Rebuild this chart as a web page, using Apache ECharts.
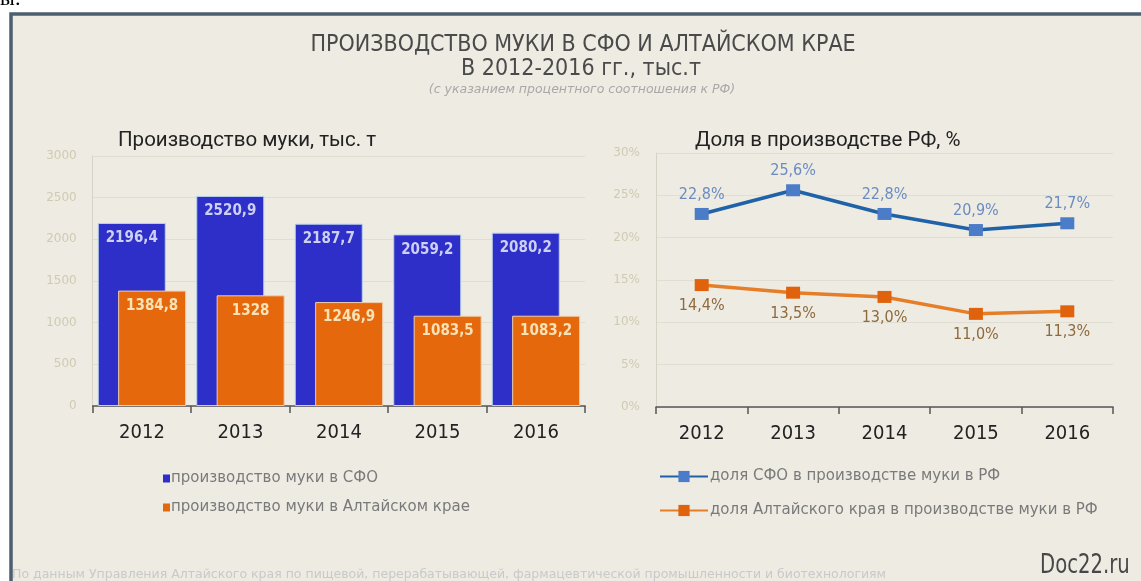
<!DOCTYPE html>
<html><head><meta charset="utf-8">
<script src="https://cdn.jsdelivr.net/npm/echarts@6/dist/echarts.min.js"></script>
<style>html,body{margin:0;padding:0;background:#fff}#c{width:1141px;height:581px}</style>
</head><body><div id="c"></div>
<script>
const years = ['2012','2013','2014','2015','2016'];
const sfoProd = [2196.4, 2520.9, 2187.7, 2059.2, 2080.2];
const altProd = [1384.8, 1328, 1246.9, 1083.5, 1083.2];
const sfoShare = [22.8, 25.6, 22.8, 20.9, 21.7];
const altShare = [14.4, 13.5, 13.0, 11.0, 11.3];
const seriesNames = ['производство муки в СФО','производство муки в Алтайском крае','доля СФО в производстве муки в РФ','доля Алтайского края в производстве муки в РФ'];
const leftTicks = [0, 500, 1000, 1500, 2000, 2500, 3000];
const rightTicks = [0, 5, 10, 15, 20, 25, 30];

const COND = "'DejaVu Sans Condensed',sans-serif";
const chart = echarts.init(document.getElementById('c'));
const fmtComma = v => String(v).replace('.', ',');
const pct = p => p.value.toFixed(1).replace('.', ',') + '%';
const axisCommon = {
  axisLabel:{color:'#cfcbb2', fontSize:12, fontFamily:'DejaVu Sans', margin:16},
  axisLine:{show:true, lineStyle:{color:'#d6d3c6'}},
  axisTick:{show:false},
  splitLine:{lineStyle:{color:'#e0ddd2'}}
};
const xCommon = {
  type:'category', data:years,
  axisLine:{lineStyle:{color:'#555', width:1.5}},
  axisTick:{show:true, length:7, lineStyle:{color:'#555', width:1.5}},
  axisLabel:{color:'#222', fontSize:20, fontFamily:COND, margin:17}
};
chart.setOption({
  backgroundColor:'#ffffff',
  animation:false,
  graphic:[
    {type:'text', left:0, top:-12, style:{text:'ы:', font:'22px "Liberation Serif", serif', fill:'#000'}},
    {type:'rect', shape:{x:11, y:14, width:1200, height:700}, style:{fill:'#eeebe3', stroke:'#4b5f70', lineWidth:3.5}},
    {type:'text', x:583, y:34, style:{text:'ПРОИЗВОДСТВО МУКИ В СФО И АЛТАЙСКОМ КРАЕ', font:'23px '+COND, fill:'#4a4a4a', textAlign:'center'}},
    {type:'text', x:581, y:58, style:{text:'В 2012-2016 гг., тыс.т', font:'23px '+COND, fill:'#4a4a4a', textAlign:'center'}},
    {type:'text', x:582, y:83, style:{text:'(с указанием процентного соотношения к РФ)', font:'italic 12.5px "DejaVu Sans"', fill:'#a8a8a8', textAlign:'center'}},
    {type:'text', left:118, top:130, style:{text:'Производство муки, тыс. т', font:'20.5px Roboto', fill:'#222'}},
    {type:'text', left:695, top:130, style:{text:'Доля в производстве РФ, %', font:'20.5px Roboto', fill:'#222'}},
    {type:'text', left:12, top:568, style:{text:'По данным Управления Алтайского края по пищевой, перерабатывающей, фармацевтической промышленности и биотехнологиям', font:'12.5px "DejaVu Sans"', fill:'#c9c9c9'}},
    {type:'text', x:1040, y:553, scaleX:0.84, style:{text:'Doc22.ru', font:'26px '+COND, fill:'#474747'}}
  ],
  legend:[
    {orient:'vertical', left:158, top:466, itemGap:14, itemWidth:7, itemHeight:8, icon:'rect',
     data:[seriesNames[0], seriesNames[1]], itemStyle:{borderWidth:0},
     textStyle:{color:'#7a7a7a', fontSize:15, fontFamily:'DejaVu Sans', padding:[0,0,0,-4]}},
    {orient:'vertical', left:654, top:464, itemGap:19, itemWidth:48, itemHeight:14,
     data:[seriesNames[2], seriesNames[3]],
     textStyle:{color:'#7a7a7a', fontSize:15, fontFamily:'DejaVu Sans', padding:[0,0,0,-3]}}
  ],
  grid:[
    {left:92.7, top:156, width:492.5, height:250},
    {left:656, top:153, width:457, height:254}
  ],
  xAxis:[
    Object.assign({gridIndex:0}, xCommon),
    Object.assign({gridIndex:1}, xCommon)
  ],
  yAxis:[
    Object.assign({gridIndex:0, type:'value', min:leftTicks[0], max:leftTicks[leftTicks.length-1], interval:500}, axisCommon,
      {axisLabel:Object.assign({}, axisCommon.axisLabel, {formatter:v=>String(v)})}),
    Object.assign({gridIndex:1, type:'value', min:rightTicks[0], max:rightTicks[rightTicks.length-1], interval:5}, axisCommon,
      {axisLabel:Object.assign({}, axisCommon.axisLabel, {formatter:'{value}%'})})
  ],
  series:[
    {name:seriesNames[0], type:'bar', xAxisIndex:0, yAxisIndex:0, data:sfoProd, barWidth:68, barGap:'-70%',
     itemStyle:{color:'#2e2ec8', borderColor:'#b8d2ea', borderWidth:1},
     label:{show:true, position:'insideTop', distance:8, color:'#cdd0f2', fontSize:15, fontWeight:'bold', fontFamily:COND, formatter:p=>fmtComma(p.value)}},
    {name:seriesNames[1], type:'bar', xAxisIndex:0, yAxisIndex:0, data:altProd, barWidth:68, barGap:'-70%',
     itemStyle:{color:'#e5680c', borderColor:'#f0cfae', borderWidth:1},
     label:{show:true, position:'insideTop', distance:8, color:'#f8e2b6', fontSize:15, fontWeight:'bold', fontFamily:COND, formatter:p=>fmtComma(p.value)}},
    {name:seriesNames[2], type:'line', xAxisIndex:1, yAxisIndex:1, data:sfoShare, symbol:'rect', symbolSize:[14,12],
     lineStyle:{color:'#2062a8', width:3.5}, itemStyle:{color:'#4a7cc8'},
     label:{show:true, position:'top', distance:5, color:'#6a8cc2', fontSize:16, fontFamily:COND, formatter:pct}},
    {name:seriesNames[3], type:'line', xAxisIndex:1, yAxisIndex:1, data:altShare, symbol:'rect', symbolSize:[14,12],
     lineStyle:{color:'#e67e28', width:3.5}, itemStyle:{color:'#e0620c'},
     label:{show:true, position:'bottom', distance:7, color:'#8e6a3c', fontSize:16, fontFamily:COND, formatter:pct}}
  ]
});
</script></body></html>
